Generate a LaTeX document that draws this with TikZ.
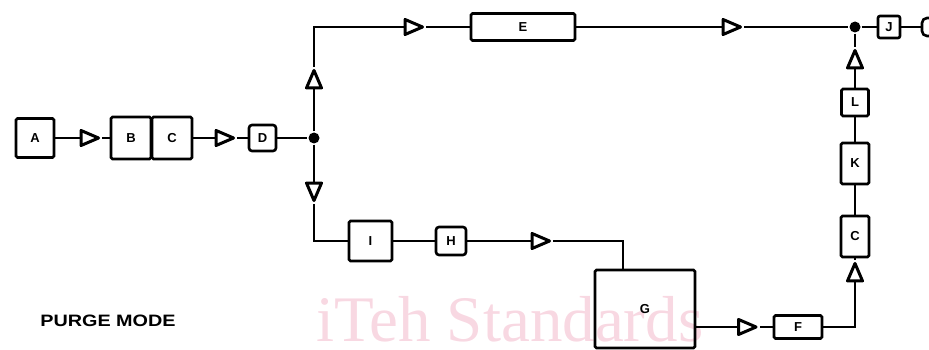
\documentclass[tikz,border=0pt]{standalone}
\usepackage{fontspec}
\usepackage{graphicx}
\usetikzlibrary{shapes.geometric}
\newfontfamily\labfont{Liberation Sans}
\newfontfamily\wmfont{Liberation Serif}
\definecolor{wmpink}{RGB}{248,216,226}
\begin{document}
\begin{tikzpicture}[x=1pt,y=-1pt,
  line width=2.3pt,
  box/.style={draw, rectangle, rounded corners=1.5pt, inner sep=0pt, line width=2.6pt,
    font=\labfont\bfseries\fontsize{13}{13}\selectfont},
  tri/.style={draw, fill=white, isosceles triangle, isosceles triangle stretches,
    minimum width=15pt, minimum height=17.5pt, inner sep=0pt, line width=3pt, line join=round},
  triR/.style={tri},
  triU/.style={tri, shape border rotate=90},
  triD/.style={tri, shape border rotate=-90},
  dot/.style={circle, fill, inner sep=0pt, minimum size=11pt}]
\clip (0,0) rectangle (929,350);
% watermark
\node[anchor=base west, inner sep=0pt, text depth=0pt, text=wmpink, font=\wmfont\fontsize{65}{65}\selectfont] (wm) at (315,341) {iTeh Standards};
% left row
\node[box, minimum width=38pt, minimum height=39pt] (A) at (35,138) {A};
\node[box, minimum width=40pt, minimum height=42pt] (B) at (131,138) {B};
\node[box, minimum width=40pt, minimum height=42pt] (C) at (172,138) {C};
\node[box, minimum width=27pt, minimum height=26pt, rounded corners=3pt] (D) at (262.5,138) {D};
\node[dot] (J1) at (314,138) {};
% top row
\node[box, minimum width=104pt, minimum height=27pt] (E) at (523,27) {E};
\node[dot] (J2) at (855,27) {};
\node[box, minimum width=22pt, minimum height=22pt, rounded corners=2pt] (J) at (889,27) {J};
\node[box, minimum width=30pt, minimum height=18pt, rounded corners=5pt] (Jx) at (937,27) {};
% right column
\node[box, minimum width=27pt, minimum height=27pt] (L) at (855,102.5) {L};
\node[box, minimum width=28pt, minimum height=41pt] (K) at (855,163.5) {K};
\node[box, minimum width=28pt, minimum height=41pt] (C2) at (855,236.5) {C};
% bottom
\node[box, minimum width=43pt, minimum height=40pt] (I) at (370.5,241) {I};
\node[box, minimum width=30pt, minimum height=28pt, rounded corners=3pt] (H) at (451,241) {H};
\node[box, minimum width=100pt, minimum height=78pt] (G) at (645,309) {G};
\coordinate (gin) at (623,269);
\node[box, minimum width=48pt, minimum height=23pt] (F) at (798,327) {F};
% triangles
\node[triR] (t1) at (86,138) {};
\node[triR] (t2) at (221,138) {};
\node[triU] (tu) at (314,83) {};
\node[triD] (td) at (314,188) {};
\node[triR] (t3) at (410,27) {};
\node[triR] (t4) at (728,27) {};
\node[triU] (tu2) at (855,63) {};
\node[triU] (t7) at (855,276) {};
\node[triR] (t6) at (537,241) {};
\node[triR] (t5) at (743.5,327) {};
% connectors
\draw (A) -- (t1);
\draw (t1) -- (B);
\draw (C) -- (t2);
\draw (t2) -- (D);
\draw (D) -- (J1);
\draw (J1) -- (tu);
\draw (tu) |- (t3);
\draw (t3) -- (E);
\draw (E) -- (t4);
\draw (t4) -- (J2);
\draw (J2) -- (J);
\draw (J) -- (Jx);
\draw (J2) -- (tu2);
\draw (tu2) -- (L);
\draw (L) -- (K);
\draw (K) -- (C2);
\draw (C2) -- (t7);
\draw (t7) |- (F);
\draw (F) -- (t5);
\draw (t5) -- (G.east |- t5);
\draw (J1) -- (td);
\draw (td) |- (I);
\draw (I) -- (H);
\draw (H) -- (t6);
\draw (t6) -| (gin);
% caption
\node[font=\labfont\bfseries\fontsize{16.5}{16.5}\selectfont] (cap) at (108,321) {\scalebox{1.2}[1]{PURGE MODE}};
\end{tikzpicture}
\end{document}
